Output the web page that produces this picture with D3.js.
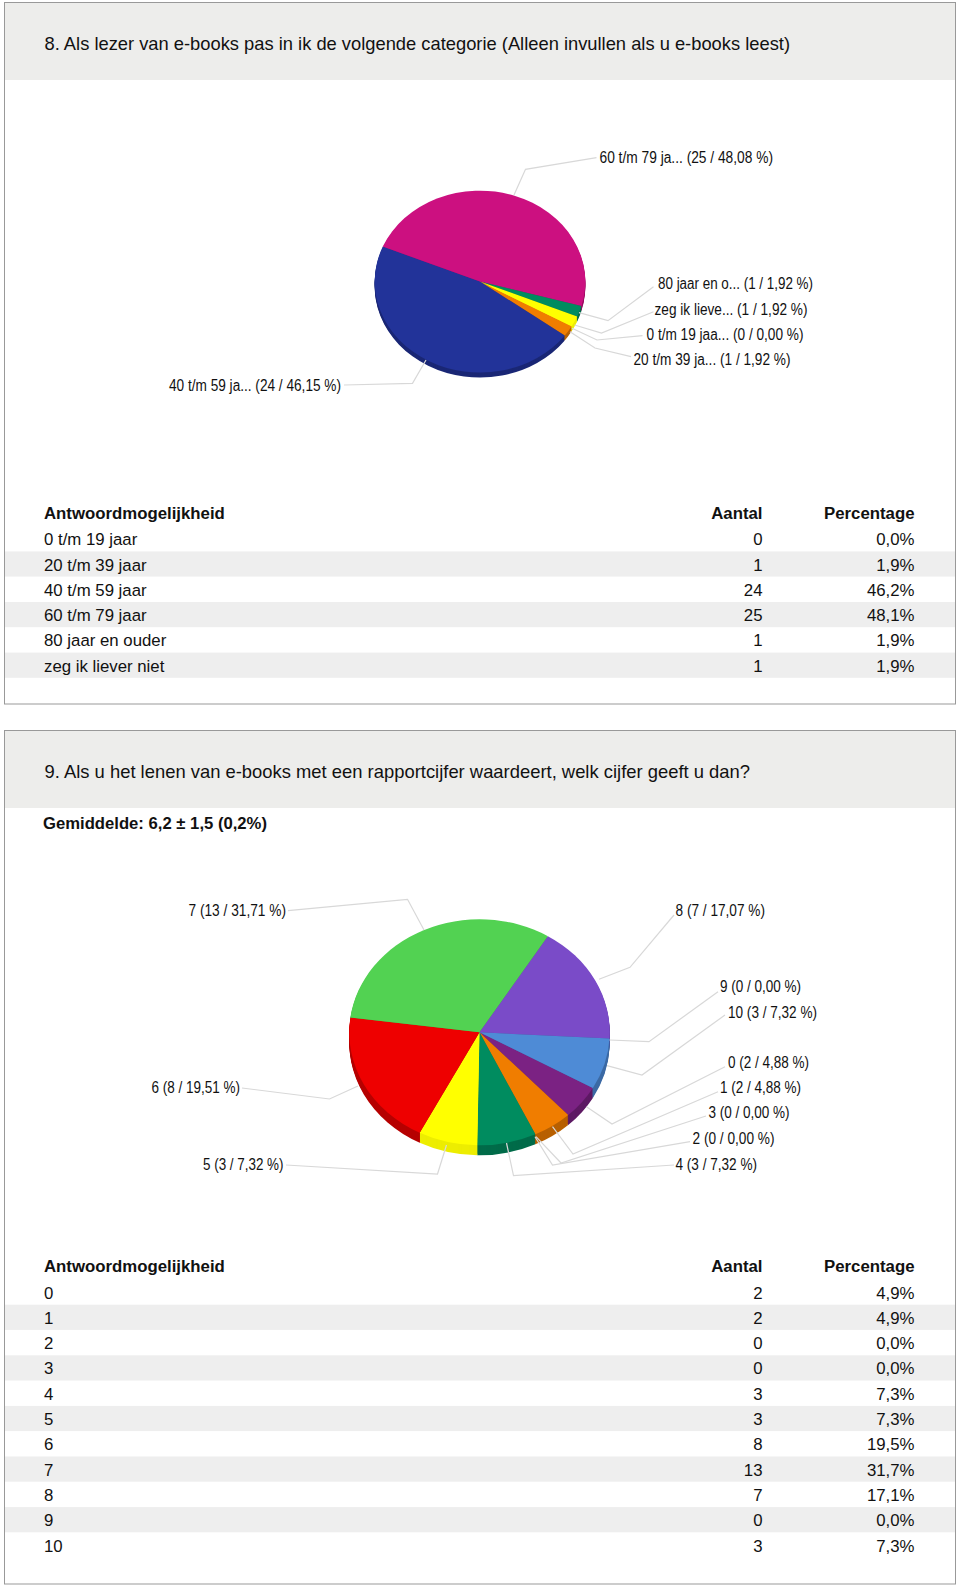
<!DOCTYPE html>
<html><head><meta charset="utf-8">
<script src="https://cdn.jsdelivr.net/npm/d3@7"></script>
<style>html,body{margin:0;padding:0;background:#fff}svg{display:block}text{font-family:"Liberation Sans",Arial,sans-serif;fill:#111}</style>
</head><body><svg id="c" width="960" height="1588"></svg>
<script>
// ---- data: question 8
const categories8 = ["0 t/m 19 jaar","20 t/m 39 jaar","40 t/m 59 jaar","60 t/m 79 jaar","80 jaar en ouder","zeg ik liever niet"];
const counts8 = [0,1,24,25,1,1];
const percents8 = ["0,0%","1,9%","46,2%","48,1%","1,9%","1,9%"];
const pieLabels8 = ["0 t/m 19 jaa... (0 / 0,00 %)","20 t/m 39 ja... (1 / 1,92 %)","40 t/m 59 ja... (24 / 46,15 %)","60 t/m 79 ja... (25 / 48,08 %)","80 jaar en o... (1 / 1,92 %)","zeg ik lieve... (1 / 1,92 %)"];
const colors8 = ["#888888","#F07D00","#223399","#CC1080","#008C5F","#FFFF00"];
// ---- data: question 9
const categories9 = ["0","1","2","3","4","5","6","7","8","9","10"];
const counts9 = [2,2,0,0,3,3,8,13,7,0,3];
const percents9 = ["4,9%","4,9%","0,0%","0,0%","7,3%","7,3%","19,5%","31,7%","17,1%","0,0%","7,3%"];
const pieLabels9 = ["0 (2 / 4,88 %)","1 (2 / 4,88 %)","2 (0 / 0,00 %)","3 (0 / 0,00 %)","4 (3 / 7,32 %)","5 (3 / 7,32 %)","6 (8 / 19,51 %)","7 (13 / 31,71 %)","8 (7 / 17,07 %)","9 (0 / 0,00 %)","10 (3 / 7,32 %)"];
const colors9 = ["#7B2283","#F07D00","#888888","#888888","#008C5F","#FFFF00","#EE0000","#52D252","#7A4BC8","#888888","#4E8BD6"];
const titles = ["8. Als lezer van e-books pas in ik de volgende categorie (Alleen invullen als u e-books leest)",
  "9. Als u het lenen van e-books met een rapportcijfer waardeert, welk cijfer geeft u dan?"];
const meanText = "Gemiddelde: 6,2 ± 1,5 (0,2%)";
const headers = ["Antwoordmogelijkheid","Aantal","Percentage"];

// ---- layout (separate from the data)
const layout8 = {cx:480,cy:281.5,rx:105.3,ry:91,depth:5,start:119.5,
 labels:[
  {x:646.5,w:157,y:334,line:[[572,328.3],[597,340],[642.5,335.7]]},
  {x:633.5,w:157,y:359,line:[[570,331.7],[595,348],[631,356.7]]},
  {x:169,w:172,y:385.7,line:[[426,360],[412.5,383.3],[344,385]]},
  {x:599.5,w:173.5,y:157.7,line:[[514,195],[525.5,169.3],[596.5,157.7]]},
  {x:658,w:155,y:283,line:[[579,312.7],[608,320.7],[653.5,286.7]]},
  {x:654.5,w:153,y:309,line:[[574.5,325],[601.5,333],[653.5,311.7]]}]};
const layout9 = {cx:479.5,cy:1032.3,rx:130.3,ry:113,depth:10,start:119.5,
 labels:[
  {x:728,w:81,y:1062.3,line:[[586.5,1106.7],[612,1124],[725,1066.7]]},
  {x:720,w:81,y:1087.7,line:[[552.5,1126.7],[573,1154],[718,1091.7]]},
  {x:692.5,w:82,y:1138,line:[[535,1136.7],[552.5,1165],[690,1141.7]]},
  {x:708.6,w:81,y:1112.7,line:[[536,1136.7],[561,1163],[706,1116]]},
  {x:675.5,w:81.5,y:1164,line:[[506.5,1143],[513.5,1175.7],[674,1165]]},
  {x:203,w:80.5,y:1164,line:[[446.5,1145],[437.5,1174],[286,1165]]},
  {x:151.5,w:88.5,y:1087.7,line:[[358,1086],[329.5,1099],[242,1088]]},
  {x:188.5,w:97.5,y:910.7,line:[[424,930],[407.5,899.3],[288,910.7]]},
  {x:675.5,w:89.5,y:910.7,line:[[599,979.3],[630,967.3],[674,915]]},
  {x:720,w:81,y:986.7,line:[[609.5,1040],[649,1041.7],[718,991.7]]},
  {x:728,w:89,y:1012,line:[[607,1065.7],[642,1075],[725,1015]]}]};

const svg = d3.select("#c");
const frames = [
 {top:2.5,bottom:704,head:79.5,title:titles[0],titleY:50,titleW:745.5},
 {top:730.5,bottom:1584,head:807.5,title:titles[1],titleY:778,titleW:705.5}];
frames.forEach(f=>{
  svg.append("rect").attr("x",4.5).attr("y",f.top).attr("width",951).attr("height",f.bottom-f.top).attr("fill","#fff").attr("stroke","#999");
  svg.append("rect").attr("x",5).attr("y",f.top+.5).attr("width",950).attr("height",f.head-f.top).attr("fill","#EDEDEB");
  svg.append("text").attr("x",44.5).attr("y",f.titleY).attr("font-size",18.5).attr("textLength",f.titleW).attr("lengthAdjust","spacingAndGlyphs").text(f.title);
});
svg.append("text").attr("x",43).attr("y",828.5).attr("font-size",16.5).attr("font-weight","bold").attr("textLength",224).attr("lengthAdjust","spacingAndGlyphs").text(meanText);

function sideColor(c){ return d3.color(c).darker(d3.hsl(c).h>50&&d3.hsl(c).h<70 ? 0.2 : 0.75); }

function drawPie(counts, colors, labels, L){
  const rad = d=>d*Math.PI/180;
  const pie = d3.pie().sort(null).startAngle(rad(L.start)).endAngle(rad(L.start+360))(counts);
  const arc = d3.arc().innerRadius(0).outerRadius(1);
  const sx = d3.scaleLinear().domain([-1,1]).range([L.cx-L.rx,L.cx+L.rx]);
  const sy = d3.scaleLinear().domain([-1,1]).range([L.cy-L.ry,L.cy+L.ry]);
  const g = svg.append("g");
  const tf = dy=>`translate(${sx(0)},${sy(0)+dy}) scale(${L.rx},${L.ry})`;
  d3.range(L.depth,0,-1).forEach(dy=>{
    g.append("g").attr("transform",tf(dy)).selectAll("path").data(pie.filter(d=>d.value>0)).join("path")
      .attr("d",arc).attr("fill",d=>sideColor(colors[d.index]));
  });
  g.append("g").attr("transform",tf(0)).selectAll("path").data(pie.filter(d=>d.value>0)).join("path")
    .attr("d",arc).attr("fill",d=>colors[d.index]);
  const line = d3.line();
  svg.append("g").selectAll("path").data(L.labels).join("path").attr("d",d=>line(d.line))
    .attr("fill","none").attr("stroke","#D8D8D8").attr("stroke-width",1.2);
  svg.append("g").selectAll("text").data(L.labels).join("text")
    .attr("x",d=>d.x).attr("y",d=>d.y+5.5).attr("font-size",16)
    .attr("textLength",d=>d.w).attr("lengthAdjust","spacingAndGlyphs").attr("fill","#222")
    .text((d,i)=>labels[i]);
}
drawPie(counts8,colors8,pieLabels8,layout8);
drawPie(counts9,colors9,pieLabels9,layout9);

function drawTable(cats,counts,pcts,headY,firstY){
  const y = d3.scaleLinear().domain([0,1]).range([firstY,firstY+25.3]);
  const g = svg.append("g").attr("font-size",16.8);
  g.selectAll("rect").data(cats.map((c,i)=>i).filter(i=>i%2==1)).join("rect")
    .attr("x",5).attr("width",950).attr("y",i=>y(i)-12.6).attr("height",25.2).attr("fill","#EEEEEE");
  [[44,"start",headers[0]],[762.5,"end",headers[1]],[914.5,"end",headers[2]]].forEach(h=>
    g.append("text").attr("x",h[0]).attr("y",headY+6).attr("text-anchor",h[1]).attr("font-weight","bold").text(h[2]));
  cats.forEach((c,i)=>{
    g.append("text").attr("x",44).attr("y",y(i)+6.5).text(c);
    g.append("text").attr("x",762.5).attr("y",y(i)+6.5).attr("text-anchor","end").text(counts[i]);
    g.append("text").attr("x",914.5).attr("y",y(i)+6.5).attr("text-anchor","end").text(pcts[i]);
  });
}
drawTable(categories8,counts8,percents8,513.3,538.7);
drawTable(categories9,counts9,percents9,1266,1292);
</script></body></html>
